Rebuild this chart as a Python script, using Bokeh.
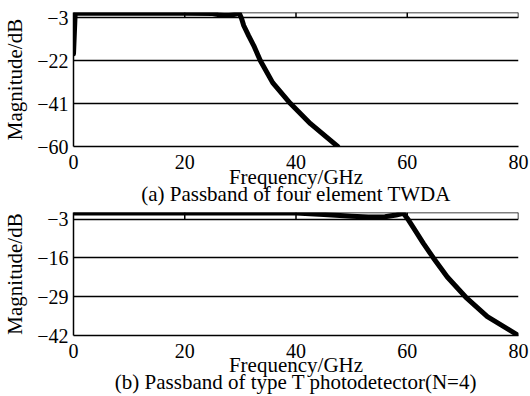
from bokeh.plotting import figure
from bokeh.models import FixedTicker, LinearAxis, Range1d, Span
from bokeh.layouts import column
from bokeh.embed import file_html
from bokeh.resources import INLINE

# ---- data ----
freq_a = [0, 0.3, 5, 10, 15, 20, 25, 26, 27, 28, 29, 29.8, 30.2, 30.6, 31.5, 32.4, 33.6, 35.8, 39.0, 42.6, 47.5]
mag_a = [-19, -1.0, -1.0, -1.0, -1.0, -1.0, -1.1, -1.6, -2.0, -2.0, -1.5, -1.0, -3.2, -6.4, -11.0, -15.3, -22.0, -31.7, -41.0, -49.9, -60.0]

freq_b = [0, 10, 20, 30, 40, 45, 50, 53, 56, 58, 59.3, 60.2, 61.1, 62.9, 64.7, 67.2, 70.5, 74.4, 80]
mag_b = [-0.9, -0.9, -0.9, -0.9, -0.9, -1.4, -2.0, -2.3, -2.2, -1.6, -1.0, -3.2, -5.8, -11.1, -16.0, -22.4, -29.1, -35.7, -42.0]

x_ticks = [0, 20, 40, 60, 80]
top_ticks = [20, 40, 60]
y_ticks_a = [-3, -22, -41, -60]
y_ticks_b = [-3, -16, -29, -42]

x_label = "Frequency/GHz"
y_label = "Magnitude/dB"
caption_a = "(a) Passband of four element TWDA"
caption_b = "(b) Passband of type T photodetector(N=4)"

FONT = "Liberation Serif"
FS_TICK = "20px"
FS_TEXT = "21px"


def make(fr, mag, yticks, ylo, yhi, h, top, frame_h, caption, label_standoff):
    p = figure(width=530, height=h, output_backend="svg",
               toolbar_location=None,
               x_range=Range1d(0, 80), y_range=Range1d(ylo, yhi),
               min_border_left=73, min_border_right=12, min_border_top=top,
               min_border_bottom=h - top - frame_h,
               x_axis_location=None, y_axis_location=None)
    p.outline_line_color = None
    p.background_fill_color = "white"
    p.border_fill_color = "white"

    xb = LinearAxis(ticker=FixedTicker(ticks=x_ticks),
                    axis_label=x_label + "\n" + caption)
    yl = LinearAxis(ticker=FixedTicker(ticks=yticks), axis_label=y_label)
    for ax in (xb, yl):
        ax.axis_line_color = "black"
        ax.axis_line_width = 1.5
        ax.major_tick_out = 0
        ax.major_tick_in = 0
        ax.minor_tick_out = 0
        ax.minor_tick_in = 0
        ax.major_label_text_font = FONT
        ax.major_label_text_font_size = FS_TICK
        ax.major_label_text_color = "black"
        ax.axis_label_text_font = FONT
        ax.axis_label_text_font_size = FS_TEXT
        ax.axis_label_text_font_style = "normal"
        ax.axis_label_text_color = "black"
    xb.major_label_standoff = 8
    xb.axis_label_text_line_height = 0.715
    xb.axis_label_standoff = label_standoff
    yl.major_label_standoff = 5
    yl.axis_label_standoff = 7
    p.add_layout(xb, "below")
    p.add_layout(yl, "left")

    p.xgrid.visible = False
    p.ygrid.ticker = FixedTicker(ticks=yticks)
    p.ygrid.grid_line_color = "black"
    p.ygrid.grid_line_width = 1.5
    p.ygrid.grid_line_alpha = 1.0

    # top frame line, small top ticks and right end of the top box
    p.add_layout(Span(location=yhi, dimension="width", line_color="black",
                      line_width=1.5))
    tx = top_ticks + [x_ticks[-1]]
    p.segment(x0=tx, x1=tx, y0=[yticks[0]] * len(tx), y1=[yhi] * len(tx),
              line_color="black", line_width=1.5)

    p.line(fr, mag, line_color="black", line_width=5, line_join="round",
           line_cap="round")
    return p


pa = make(freq_a, mag_a, y_ticks_a, -60, -0.65, 209, 12, 134, caption_a, -7)
pb = make(freq_b, mag_b, y_ticks_b, -42, -0.76, 187, 3, 123, caption_b, -8)

layout = column(pa, pb)
open("out.html", "w").write(file_html(layout, INLINE))
